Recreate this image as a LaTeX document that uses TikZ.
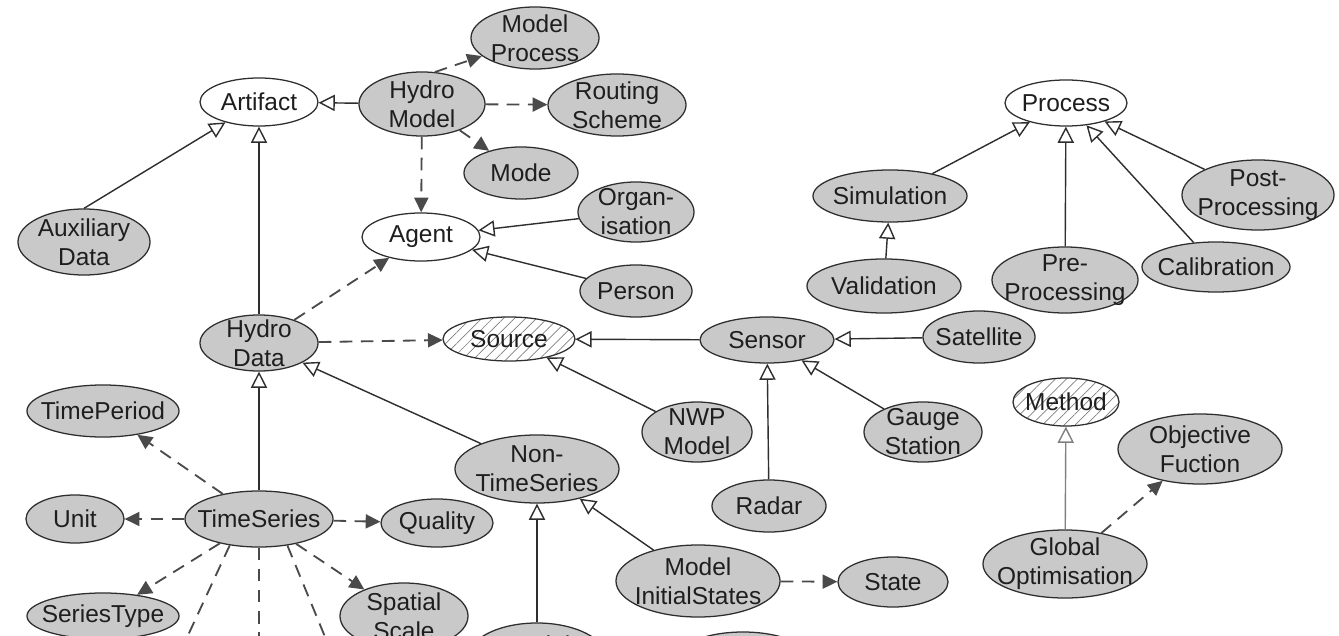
\documentclass[tikz,border=0pt]{standalone}
\usepackage{fontspec}
\setmainfont{Liberation Sans}
\usetikzlibrary{shapes.geometric,arrows.meta,patterns.meta}
\definecolor{fillgray}{HTML}{C9C9C9}
\definecolor{linegray}{HTML}{2E2E2E}
\definecolor{dashgray}{HTML}{4A4A4A}
\definecolor{txtgray}{HTML}{1E1E1E}
\begin{document}
\begin{tikzpicture}[x=0.025cm,y=-0.025cm,label position=center,
  cls/.style={ellipse,draw=linegray,line width=0.9pt,fill=fillgray,inner sep=0pt},
  rootcls/.style={cls,fill=white},
  abstr/.style={ellipse,draw=linegray,line width=0.9pt,inner sep=0pt,
    pattern={Lines[angle=45,distance=5.5pt,line width=0.5pt]},pattern color=gray},
  sz/.style 2 args={minimum width=#1*0.05cm,minimum height=#2*0.05cm},
  every label/.style={align=center,text=txtgray,font=\fontsize{17.4}{20.6}\selectfont},
  isa/.style={draw=linegray,line width=1pt,-{Triangle[open,length=11.5pt,width=11.5pt,fill=white]}},
  has/.style={draw=dashgray,line width=1.3pt,dash pattern=on 9pt off 6pt,-{Triangle[length=10.5pt,width=10pt]}}]
\useasboundingbox (0,0) rectangle (1339,636);
\fill[white] (0,0) rectangle (1339,636);
\clip (0,0) rectangle (1339,636);
% upper part
\node[rootcls,sz={59}{24},label={Artifact}] (art) at (259,102) {};
\node[cls,sz={63}{32},label={Hydro\\Model}] (hm) at (422,104) {};
\node[cls,sz={64}{31},label={Model\\Process}] (mp) at (535,38) {};
\node[cls,sz={69}{31},label={Routing\\Scheme}] (rs) at (617,105) {};
\node[cls,sz={57}{26},label={Mode}] (mode) at (521,173) {};
\node[rootcls,sz={59}{24},label={Agent}] (agent) at (421,237) {};
\node[cls,sz={58}{30},label={Organ-\\isation}] (org) at (636,212) {};
\node[cls,sz={56}{26},label={Person}] (person) at (636,291) {};
\node[cls,sz={66}{33},label={Auxiliary\\Data}] (aux) at (84,242) {};
% data and sources
\node[cls,sz={59}{28},label={Hydro\\Data}] (hd) at (259,343) {};
\node[abstr,sz={66}{22},label={Source}] (src) at (509,339) {};
\node[cls,sz={67}{23},label={Sensor}] (sensor) at (767,340) {};
\node[cls,sz={56}{26},label={Satellite}] (sat) at (979,337) {};
\node[cls,sz={55}{30},label={NWP\\Model}] (nwp) at (697,432) {};
\node[cls,sz={59}{30},label={Gauge\\Station}] (gauge) at (923,432) {};
\node[cls,sz={57}{26},label={Radar}] (radar) at (769,506) {};
\node[cls,sz={82}{34},label={Non-\\TimeSeries}] (nts) at (537,469) {};
\node[cls,sz={82}{36},label={Model\\InitialStates}] (mis) at (698,581) {};
\node[cls,sz={55}{25},label={State}] (state) at (893,582) {};
\node[cls,sz={70}{36},label={Model\\\mbox{}}] (mpar) at (537,659) {};
\node[cls,sz={75}{35}] (lowr) at (743,667) {};
% time series
\node[cls,sz={76}{26},label={TimePeriod}] (tp) at (103,411) {};
\node[cls,sz={49}{24},label={Unit}] (unit) at (75,519) {};
\node[cls,sz={74}{28},label={TimeSeries}] (ts) at (259,519) {};
\node[cls,sz={56}{24},label={Quality}] (qual) at (437,523) {};
\node[cls,sz={76}{23},label={SeriesType}] (st) at (103,616) {};
\node[cls,sz={64}{33},label={Spatial\\Scale}] (ss) at (404,616) {};
\coordinate (dn1) at (158,700);
\coordinate (dn2) at (259,700);
\coordinate (dn3) at (351,700);
% processes
\node[rootcls,sz={61}{23},label={Process}] (proc) at (1066,103) {};
\node[cls,sz={77}{26},label={Simulation}] (sim) at (890,196) {};
\node[cls,sz={77}{27},label={Validation}] (val) at (884,286) {};
\node[cls,sz={73}{33},label={Pre-\\Processing}] (pre) at (1065,280) {};
\node[cls,sz={74}{25},label={Calibration}] (cal) at (1216,267) {};
\node[cls,sz={76}{35},label={Post-\\Processing}] (post) at (1258,195) {};
\node[abstr,sz={53}{24},label={Method}] (meth) at (1066,402) {};
\node[cls,sz={82}{35},label={Objective\\Fuction}] (obj) at (1200,449) {};
\node[cls,sz={82}{34},label={Global\\Optimisation}] (glob) at (1065,564) {};
% connectors
\draw[isa] (aux.north) -- (art);
\draw[isa] (hm) -- (art);
\draw[isa] (hd) -- (art);
\draw[has] (hm.68) -- (mp);
\draw[has] (hm) -- (rs);
\draw[has] (hm) -- (mode);
\draw[has] (hm) -- (agent);
\draw[isa] (org) -- (agent);
\draw[isa] (person) -- (agent);
\draw[has] (hd) -- (agent);
\draw[has] (hd) -- (src);
\draw[isa] (sensor) -- (src);
\draw[isa] (sat) -- (sensor);
\draw[isa] (nwp) -- (src);
\draw[isa] (gauge) -- (sensor);
\draw[isa] (radar) -- (sensor);
\draw[isa] (nts) -- (hd);
\draw[isa] (ts) -- (hd);
\draw[has] (ts) -- (tp);
\draw[has] (ts) -- (unit);
\draw[has] (ts) -- (qual);
\draw[has] (ts) -- (st);
\draw[has] (ts) -- (ss);
\draw[has] (ts.222) -- (dn1);
\draw[has] (ts.south) -- (dn2);
\draw[has] (ts.317) -- (dn3);
\draw[isa] (mis) -- (nts);
\draw[has] (mis) -- (state);
\draw[isa] (mpar) -- (nts);
\draw[isa] (sim) -- (proc);
\draw[isa] (pre) -- (proc);
\draw[isa] (cal) -- (proc);
\draw[isa] (post) -- (proc);
\draw[isa] (val) -- (sim);
\draw[isa,draw=gray] (glob) -- (meth);
\draw[has] (glob) -- (obj);
\end{tikzpicture}
\end{document}
